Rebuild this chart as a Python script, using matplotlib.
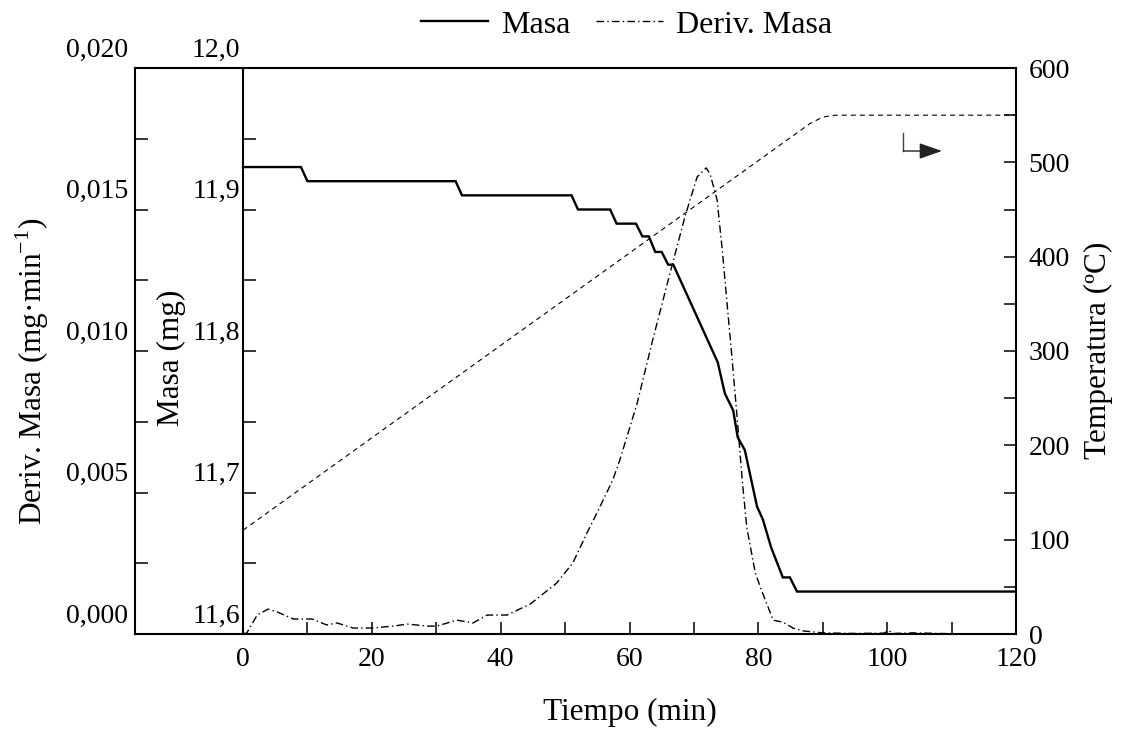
import matplotlib
matplotlib.use("Agg")
import matplotlib.pyplot as plt
import matplotlib.transforms as mtransforms
import numpy as np

# ---------------- data ----------------
t_mass = [0, 9, 10, 33, 34, 51, 52, 57, 58, 61, 62, 63, 64, 65, 66, 66.8,
          73.7, 74.8, 76.1, 76.8, 77.9, 79.8, 80.7, 82.0, 83.8, 84.9, 86.0, 120]
masa = [11.930, 11.930, 11.920, 11.920, 11.910, 11.910, 11.900, 11.900, 11.890,
        11.890, 11.881, 11.881, 11.870, 11.870, 11.861, 11.861,
        11.792, 11.770, 11.758, 11.739, 11.730, 11.690, 11.681, 11.661,
        11.640, 11.640, 11.630, 11.630]

t_deriv = [0, 0.6, 2.2, 3.9, 5.3, 7.8, 10.7, 13.0, 14.6, 17.1, 20.0, 23.3,
           25.5, 28.6, 30.1, 33.2, 35.7, 37.9, 41.0, 44.6, 48.7, 51.2, 53.4,
           55.4, 57.4, 58.5, 61.2, 63.6, 66.3, 68.6, 70.5, 71.3, 71.9, 72.5,
           73.6, 74.4, 75.1, 75.9, 76.7, 77.5, 78.2, 79.5, 80.3, 82.3, 83.8,
           85.4, 86.9, 90.0, 95.0, 99.5, 100.2, 101.0, 104.0, 110.0, 120.0]
deriv = [0.0, 0.00004, 0.00067, 0.00088, 0.00078, 0.00053, 0.00053, 0.00032,
         0.00039, 0.00021, 0.00021, 0.00028, 0.00035, 0.00028, 0.00028,
         0.00049, 0.00039, 0.00067, 0.00067, 0.00106, 0.00180, 0.00251,
         0.00357, 0.00449, 0.00544, 0.00615, 0.00816, 0.01039, 0.01276,
         0.01474, 0.01615, 0.01633, 0.01647, 0.01626, 0.01534, 0.01357,
         0.01180, 0.00979, 0.00767, 0.00544, 0.00378, 0.00219, 0.00166,
         0.00049, 0.00042, 0.00021, 0.00011, 0.00004, 0.00002, 0.00003,
         0.00012, 0.00002, 0.00004, 0.00001, 0.00001]

t_temp = [0, 88, 90, 92, 120]
temp = [110, 541, 548, 550, 550]

x_ticks = [0, 20, 40, 60, 80, 100, 120]
x_minor = [10, 30, 50, 70, 90, 110]
deriv_ticks = [0.000, 0.005, 0.010, 0.015, 0.020]
deriv_labels = ["0,000", "0,005", "0,010", "0,015", "0,020"]
masa_ticks = [11.6, 11.7, 11.8, 11.9, 12.0]
masa_labels = ["11,6", "11,7", "11,8", "11,9", "12,0"]
temp_ticks = [0, 100, 200, 300, 400, 500, 600]

# ---------------- style ----------------
plt.rcParams['font.family'] = ['Liberation Serif', 'DejaVu Serif']
plt.rcParams['font.size'] = 20
plt.rcParams['lines.scale_dashes'] = False
plt.rcParams['mathtext.fontset'] = 'custom'
plt.rcParams['mathtext.rm'] = 'Liberation Serif'

LABEL_FS = 22.5

W, H = 1121, 729
fig = plt.figure(figsize=(W / 100, H / 100), dpi=100)
L, R, T, B = 135, 1016, 68, 634
rect = [L / W, 1 - B / H, (R - L) / W, (B - T) / H]

ax = fig.add_axes(rect)
x0 = -(243 - L) / ((R - 243) / 120.0)
ax.set_xlim(x0, 120)
ax.set_ylim(0, 0.02)

ax_m = ax.twinx()
ax_m.set_ylim(11.6, 12.0)
ax_t = ax.twinx()
ax_t.set_ylim(0, 600)

spine_lw = 1.5
for a in (ax, ax_m, ax_t):
    for s in a.spines.values():
        s.set_linewidth(spine_lw)

# deriv axis (outer left)
ax.spines['right'].set_visible(False)
ax.set_xticks(x_ticks)
ax.set_xticks(x_minor, minor=True)
ax.set_xticklabels([str(v) for v in x_ticks])
ax.set_yticks(deriv_ticks)
ax.set_yticks(np.arange(0, 0.0201, 0.0025), minor=True)
ax.set_yticklabels(deriv_labels)
ax.tick_params(axis='both', which='both', direction='in', length=9, width=1.1)
ax.tick_params(axis='y', which='both', pad=5)
ax.tick_params(axis='x', which='both', pad=9, top=False)

# masa axis (at x = 0)
for k in ('right', 'top', 'bottom'):
    ax_m.spines[k].set_visible(False)
ax_m.spines['left'].set_visible(True)
ax_m.spines['left'].set_position(('data', 0))
ax_m.yaxis.set_ticks_position('left')
ax_m.set_yticks(masa_ticks)
ax_m.set_yticks(np.arange(11.6, 12.001, 0.05), minor=True)
ax_m.set_yticklabels(masa_labels)
ax_m.tick_params(axis='y', which='both', direction='in', length=9, width=1.1, pad=2)

# temperature axis (right)
for k in ('left', 'top', 'bottom'):
    ax_t.spines[k].set_visible(False)
ax_t.set_yticks(temp_ticks)
ax_t.set_yticks(np.arange(0, 601, 50), minor=True)
ax_t.set_yticklabels([str(v) for v in temp_ticks])
ax_t.tick_params(axis='y', which='both', direction='in', length=9, width=1.1, pad=9)

# shift left tick labels upward (as in reference)
off = mtransforms.ScaledTranslation(0, 0.21, fig.dpi_scale_trans)
for a in (ax, ax_m):
    for lab in a.get_yticklabels():
        lab.set_transform(lab.get_transform() + off)

# ---------------- curves ----------------
l_mass, = ax_m.plot(t_mass, masa, color='black', lw=1.7, solid_joinstyle='miter')
l_deriv, = ax.plot(t_deriv, deriv, color='black', lw=1.0,
                   linestyle=(0, (5.5, 2.3, 1.0, 2.3)))
ax_t.plot(t_temp, temp, color='black', lw=0.8, linestyle=(0, (3.6, 2.9)))

# arrow indicating temperature axis
ax_t.plot([102.5, 102.5], [531, 512], color='#444444', lw=1.0)
ax_t.annotate('', xy=(108.5, 512), xytext=(102.5, 512),
              arrowprops=dict(arrowstyle='-|>,head_length=1.0,head_width=0.35',
                              color='#222222', lw=1.0, shrinkA=0, shrinkB=0,
                              mutation_scale=14))

# ---------------- labels ----------------
fig.text(630 / W, 1 - 712 / H, 'Tiempo (min)', ha='center', va='center',
         fontsize=LABEL_FS)
fig.text(1098 / W, 1 - 350 / H, 'Temperatura (ºC)', ha='center', va='center',
         rotation=90, fontsize=LABEL_FS)
fig.text(171 / W, 1 - 358 / H, 'Masa (mg)', ha='center', va='center',
         rotation=90, fontsize=LABEL_FS)
fig.text(32 / W, 1 - 371 / H, r'Deriv. Masa (mg·min$^{\mathregular{-1}}$)',
         ha='center', va='center', rotation=90, fontsize=LABEL_FS)

fig.legend([l_mass, l_deriv], ['Masa', 'Deriv. Masa'], ncol=2, loc='center',
           bbox_to_anchor=(626.5 / W, 1 - 25 / H), frameon=False,
           handlelength=2.1, handletextpad=0.4, columnspacing=0.8,
           borderpad=0, fontsize=23)

fig.savefig('out.png', dpi=100)
